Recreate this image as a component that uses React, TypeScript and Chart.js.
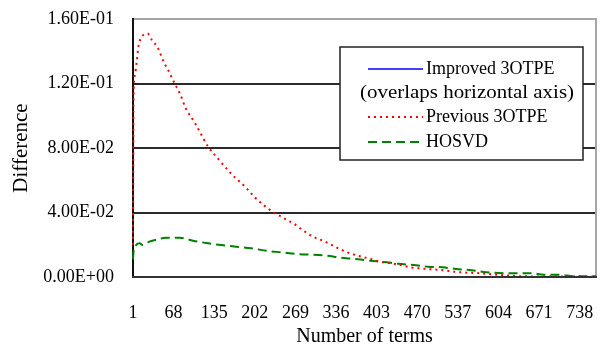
import React, { useEffect, useRef } from "react";
import { Chart, registerables } from "chart.js";

Chart.register(...registerables);

const seriesNames = ["Improved 3OTPE", "Previous 3OTPE", "HOSVD"];
const legendNote = "(overlaps horizontal axis)";
const xTitle = "Number of terms";
const yTitle = "Difference";

const xTickValues = [1, 68, 135, 202, 269, 336, 403, 470, 537, 604, 671, 738];
const xMin = 1;
const xMax = 765;
const yTickValues = [0, 0.04, 0.08, 0.12, 0.16];

const improvedX = [1, 765];
const improvedY = [0, 0];

const previousX = [1, 2, 4, 7, 10, 14, 25, 33, 41, 47, 52, 59, 65, 72, 79, 88, 103, 117, 125, 143, 165, 186, 202, 232, 244, 255, 267, 279, 296, 318, 343, 356, 374, 389, 409, 436, 459, 486, 511, 535, 575, 602, 641, 700, 765];
const previousY = [0.02, 0.112, 0.125, 0.133, 0.143, 0.148, 0.151, 0.1464, 0.1428, 0.1377, 0.1331, 0.1284, 0.1236, 0.1184, 0.1133, 0.1046, 0.0957, 0.086, 0.0808, 0.0726, 0.0633, 0.056, 0.0494, 0.0403, 0.0378, 0.0353, 0.0329, 0.0296, 0.0254, 0.0219, 0.0172, 0.0151, 0.013, 0.0116, 0.0095, 0.008, 0.006, 0.005, 0.0043, 0.0031, 0.0023, 0.0014, 0.0005, 0.0003, 0.0002];

const hosvdX = [1, 2, 6, 12, 17, 28, 37, 56, 78, 100, 125, 147, 171, 196, 224, 246, 271, 321, 343, 367, 392, 415, 439, 464, 488, 512, 534, 560, 584, 641, 658, 679, 704, 729, 765];
const hosvdY = [0.011, 0.016, 0.0198, 0.0209, 0.0198, 0.0219, 0.0229, 0.0244, 0.0244, 0.0225, 0.0209, 0.0198, 0.0188, 0.0178, 0.0161, 0.0153, 0.0143, 0.0132, 0.012, 0.0112, 0.0101, 0.0093, 0.0082, 0.0074, 0.0064, 0.006, 0.005, 0.0042, 0.0029, 0.0023, 0.0023, 0.0014, 0.0014, 0.0005, 0.0004];

const FONT = "'Liberation Serif', 'Times New Roman', serif";
const COLORS = ["#0000ff", "#ff0000", "#008000"];
const DASHES: number[][] = [[], [2, 4], [9, 5]];

const toPoints = (xs: number[], ys: number[]) => xs.map((x, i) => ({ x, y: ys[i] }));

const fmtSci = (v: number) => {
  const [m, e] = v.toExponential(2).split("e");
  const sign = e.startsWith("-") ? "-" : "+";
  const digits = e.replace(/[+-]/, "").padStart(2, "0");
  return `${m}E${sign}${digits}`;
};

const framePlugin = {
  id: "frame",
  beforeDatasetsDraw(chart: any) {
    const { ctx, chartArea } = chart;
    const { left, right, top, bottom } = chartArea;
    ctx.save();
    ctx.lineWidth = 2;
    ctx.strokeStyle = "#a6a6a6";
    ctx.beginPath();
    ctx.moveTo(left, top);
    ctx.lineTo(right, top);
    ctx.lineTo(right, bottom);
    ctx.stroke();
    ctx.strokeStyle = "#111111";
    ctx.beginPath();
    ctx.moveTo(left, top - 1);
    ctx.lineTo(left, bottom);
    ctx.stroke();
    ctx.restore();
  },
  afterDatasetsDraw(chart: any) {
    const { ctx, chartArea } = chart;
    const { left, right, bottom } = chartArea;
    ctx.save();
    ctx.lineWidth = 2;
    ctx.strokeStyle = "#333333";
    ctx.beginPath();
    ctx.moveTo(left - 1, bottom);
    ctx.lineTo(right + 1, bottom);
    ctx.stroke();

    // legend box
    const bx = 340, by = 47, bw = 243, bh = 113;
    ctx.fillStyle = "#ffffff";
    ctx.fillRect(bx, by, bw, bh);
    ctx.lineWidth = 1.5;
    ctx.strokeStyle = "#222222";
    ctx.strokeRect(bx, by, bw, bh);

    const rows = [
      { idx: 0, y: 69 },
      { idx: 1, y: 117 },
      { idx: 2, y: 142 },
    ];
    ctx.font = `18px ${FONT}`;
    ctx.textBaseline = "middle";
    ctx.textAlign = "left";
    rows.forEach(({ idx, y }) => {
      ctx.save();
      ctx.strokeStyle = COLORS[idx];
      ctx.lineWidth = idx === 0 ? 1.5 : 2;
      ctx.setLineDash(DASHES[idx]);
      ctx.beginPath();
      ctx.moveTo(368, y);
      ctx.lineTo(423, y);
      ctx.stroke();
      ctx.restore();
      ctx.fillStyle = "#000000";
      ctx.fillText(chart.data.datasets[idx].label, 426, y);
    });
    ctx.fillStyle = "#000000";
    const noteW = ctx.measureText(legendNote).width;
    const targetW = 214;
    ctx.save();
    ctx.translate(360, 93);
    ctx.scale(targetW / noteW, 1);
    ctx.fillText(legendNote, 0, 0);
    ctx.restore();
    ctx.restore();
  },
};

export default function App() {
  const canvasRef = useRef<HTMLCanvasElement | null>(null);

  useEffect(() => {
    const canvas = canvasRef.current;
    if (!canvas) return;
    const chart = new Chart(canvas, {
      type: "line",
      data: {
        datasets: [
          {
            label: seriesNames[0],
            data: toPoints(improvedX, improvedY),
            borderColor: COLORS[0],
            borderWidth: 1.5,
            pointRadius: 0,
            fill: false,
          },
          {
            label: seriesNames[1],
            data: toPoints(previousX, previousY),
            borderColor: COLORS[1],
            borderWidth: 2,
            borderDash: DASHES[1],
            pointRadius: 0,
            fill: false,
            cubicInterpolationMode: "monotone",
            clip: 4,
          },
          {
            label: seriesNames[2],
            data: toPoints(hosvdX, hosvdY),
            borderColor: COLORS[2],
            borderWidth: 2,
            borderDash: DASHES[2],
            pointRadius: 0,
            fill: false,
            cubicInterpolationMode: "monotone",
            clip: 4,
          },
        ],
      },
      options: {
        responsive: false,
        animation: false,
        devicePixelRatio: 1,
        layout: { padding: { top: 19, right: 7, left: 0, bottom: 0 } },
        plugins: {
          legend: { display: false },
          tooltip: { enabled: false },
        },
        scales: {
          x: {
            type: "linear",
            min: xMin,
            max: xMax,
            afterBuildTicks: (scale: any) => {
              scale.ticks = xTickValues.map((v) => ({ value: v }));
            },
            afterFit: (scale: any) => {
              scale.height = 83;
              scale.paddingLeft = 0;
              scale.paddingRight = 0;
            },
            grid: { display: false, drawTicks: false },
            border: { display: false },
            ticks: {
              autoSkip: false,
              maxRotation: 0,
              padding: 25,
              color: "#000000",
              font: { family: FONT, size: 18 },
              callback: (v: any) => String(v),
            },
            title: {
              display: true,
              text: xTitle,
              color: "#000000",
              font: { family: FONT, size: 20 },
              padding: { top: 0, bottom: 11 },
            },
          },
          y: {
            type: "linear",
            min: 0,
            max: 0.16,
            afterBuildTicks: (scale: any) => {
              scale.ticks = yTickValues.map((v) => ({ value: v }));
            },
            afterFit: (scale: any) => {
              scale.width = 133;
              scale.paddingTop = 0;
              scale.paddingBottom = 0;
            },
            grid: {
              drawTicks: false,
              lineWidth: 2,
              color: (ctx: any) => {
                const v = ctx.tick ? ctx.tick.value : 0;
                return v > 0.001 && v < 0.159 ? "#2a2a2a" : "rgba(0,0,0,0)";
              },
            },
            border: { display: false },
            ticks: {
              padding: 19,
              color: "#000000",
              font: { family: FONT, size: 18 },
              callback: (v: any) => fmtSci(Number(v)),
            },
            title: {
              display: true,
              text: yTitle,
              color: "#000000",
              font: { family: FONT, size: 21 },
              padding: { top: 9, bottom: 0 },
            },
          },
        },
      },
      plugins: [framePlugin],
    });
    return () => chart.destroy();
  }, []);

  return (
    <div style={{ position: "fixed", left: 0, top: 0, width: 603, height: 360, background: "#ffffff" }}>
      <canvas ref={canvasRef} width={603} height={360} style={{ display: "block" }} />
    </div>
  );
}
